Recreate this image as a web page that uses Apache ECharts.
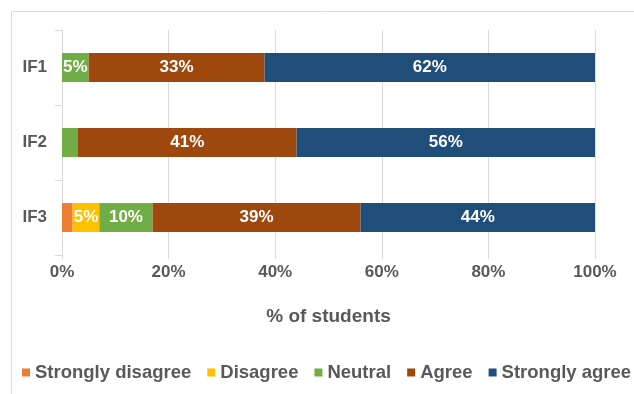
<!DOCTYPE html>
<html>
    <head>
        <meta charset="utf-8">
        <title>% of students</title>
        <script src="https://cdn.jsdelivr.net/npm/echarts@6/dist/echarts.min.js"></script>
        <style>
            body { margin: 0; background: #fff; }
        </style>
    </head>
    <body>
        <div id="chart1" style="width:634px;height:394px;"></div>
    </body>
    <script type="text/javascript">
        // 数据
        var items = ['IF1', 'IF2', 'IF3'];
        var stronglyDisagree = [0, 0, 2];
        var disagree = [0, 0, 5];
        var neutral = [5, 3, 10];
        var agree = [33, 41, 39];
        var stronglyAgree = [62, 56, 44];
        var xTicks = [0, 20, 40, 60, 80, 100];

        var grey = '#595959';
        var lineGrey = '#d9d9d9';

        var myChart1 = echarts.init(document.getElementById('chart1'));

        function seg(name, data, color) {
            return {
                name: name,
                type: 'bar',
                stack: 'total',
                barWidth: 29,
                data: data,
                itemStyle: { color: color },
                label: {
                    show: true,
                    position: 'inside',
                    color: '#fff',
                    fontWeight: 'bold',
                    fontSize: 17,
                    fontFamily: 'Liberation Sans',
                    formatter: function (p) {
                        return p.value >= 5 ? p.value + '%' : '';
                    }
                }
            };
        }

        myChart1.setOption({
            animation: false,
            textStyle: { fontFamily: 'Liberation Sans' },
            graphic: [
                { type: 'line', shape: { x1: 11.5, y1: 11.5, x2: 634, y2: 11.5 }, style: { stroke: lineGrey, lineWidth: 1 } },
                { type: 'line', shape: { x1: 11.5, y1: 11.5, x2: 11.5, y2: 394 }, style: { stroke: lineGrey, lineWidth: 1 } }
            ],
            legend: {
                left: 22,
                top: 363,
                width: 612,
                padding: 0,
                icon: 'rect',
                itemWidth: 8,
                itemHeight: 8,
                itemGap: 16,
                textStyle: { color: grey, fontWeight: 'bold', fontSize: 18.5, fontFamily: 'Liberation Sans' },
                data: ['Strongly disagree', 'Disagree', 'Neutral', 'Agree', 'Strongly agree']
            },
            grid: { left: 62, right: 39, top: 30, bottom: 139, containLabel: false },
            xAxis: {
                type: 'value',
                min: xTicks[0],
                max: xTicks[xTicks.length - 1],
                interval: 20,
                name: '% of students',
                nameLocation: 'middle',
                nameGap: 52,
                nameTextStyle: { color: grey, fontWeight: 'bold', fontSize: 19 },
                axisLine: { show: false },
                axisTick: { show: true, length: 4, lineStyle: { color: lineGrey } },
                splitLine: { show: true, lineStyle: { color: lineGrey } },
                axisLabel: { color: grey, fontWeight: 'bold', fontSize: 17, margin: 9, formatter: '{value}%' }
            },
            yAxis: {
                type: 'category',
                inverse: true,
                data: items,
                axisLine: { show: true, lineStyle: { color: lineGrey } },
                axisTick: { show: true, length: 7, lineStyle: { color: lineGrey } },
                axisLabel: { color: grey, fontWeight: 'bold', fontSize: 17, margin: 15 }
            },
            series: [
                seg('Strongly disagree', stronglyDisagree, '#ED7D31'),
                seg('Disagree', disagree, '#FFC000'),
                seg('Neutral', neutral, '#70AD47'),
                seg('Agree', agree, '#9E480E'),
                seg('Strongly agree', stronglyAgree, '#1F4E79')
            ]
        });
    </script>
</html>
